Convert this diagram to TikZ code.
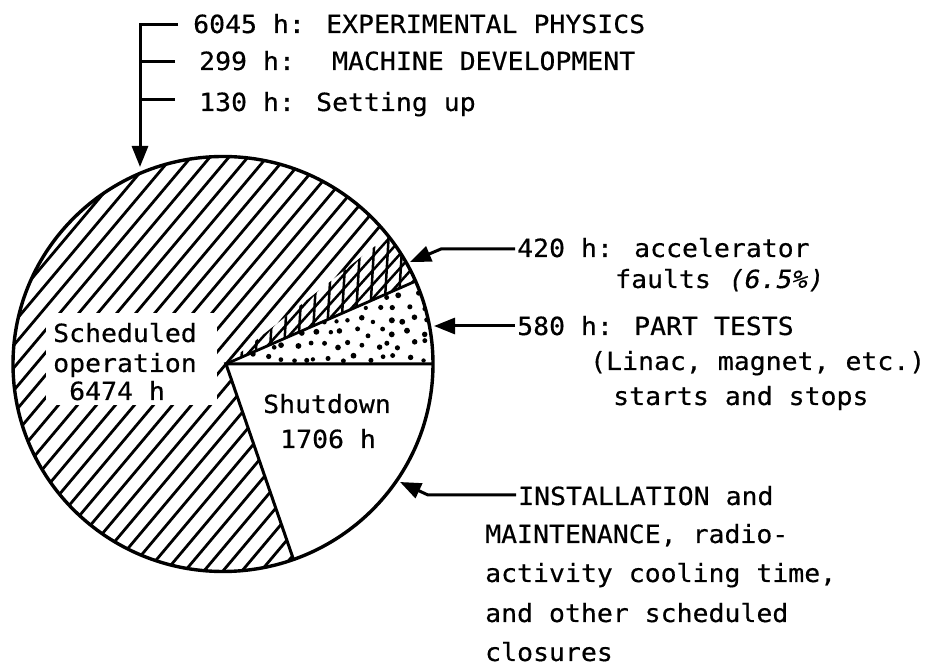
\documentclass[tikz,border=0pt]{standalone}
\usepackage{fontspec}
\usetikzlibrary{arrows.meta}
\newfontfamily\tw[FakeStretch=1.06,FakeBold=0.4]{DejaVu Sans Mono}
\newfontfamily\twi[FakeStretch=1.06,FakeSlant=0.2,FakeBold=0.4]{DejaVu Sans Mono}
\begin{document}
\begin{tikzpicture}[x=1pt,y=1pt,
  lbl/.style={anchor=base west,inner sep=0pt,font=\tw\fontsize{25}{30}\selectfont},
  conn/.style={line width=3pt},
  arr/.style={conn,-{Triangle[length=21pt,width=16pt]}},
  hatchl/.style={line width=2.8pt},
  xhatch/.style={line width=2.5pt},
  rim/.style={line width=3.4pt},
  dotc/.style={fill=black}]
\useasboundingbox (0,0) rectangle (935,667);
\coordinate (V) at (226,303);
\coordinate (O) at (223,303);
% ---------- fillings ----------
\begin{scope}
  \clip (O) ellipse [x radius=210, y radius=207.5];
  % single hatch of the scheduled operation
  \foreach \i in {-17,...,17}{
    \draw[hatchl] ({226+19*\i-206},{303-245}) -- ({226+19*\i+206},{303+245});
  }
  % shutdown sector (white)
  \fill[white] (V) -- (460,303) -- (460,-60) -- (352,-60) -- cycle;
  % part tests sector (white, dotted)
  \fill[white] (V) -- (460,303) -- (460,405.2) -- cycle;
  \begin{scope}
    \clip (V) -- (460,303) -- (460,405.2) -- cycle;
    \pgfmathsetseed{5}
    \foreach \gx in {0,...,16}{
      \foreach \gy in {0,...,7}{
        \pgfmathsetmacro\px{239+13*\gx+6.5*mod(\gy,2)+9*(rnd-0.5)}
        \pgfmathsetmacro\py{310+12.5*\gy+8*(rnd-0.5)}
        \pgfmathsetmacro\ds{2.1+0.9*rnd}
        \fill[dotc] (\px,\py) circle (\ds);
      }
    }
  \end{scope}
  % accelerator faults (cross hatch)
  \fill[white] (V) -- (460,405.2) -- (460,488) -- cycle;
  \begin{scope}
    \clip (V) -- (460,405.2) -- (460,488) -- cycle;
    \foreach \k in {-12,...,1}{
      \draw[xhatch] (220,{303-6.7+14*\k}) -- (460,{303+260.7+14*\k});
    }
    \foreach \x in {246,260,...,430}{
      \draw[xhatch] (\x-5,300) -- (\x+5,470);
    }
  \end{scope}
\end{scope}
% white patch behind the label of the big sector
\fill[white] (46,262) rectangle (217,354);
% ---------- outline ----------
\draw[rim] (O) ellipse [x radius=210, y radius=207.5];
\draw[line width=3pt] (293.5,107.5) -- (V) -- (433,303);
\draw[line width=2.8pt] (V) -- (416,386);
% ---------- labels inside ----------
\node[lbl] (sch1) at (53,325) {Scheduled};
\node[lbl] (sch2) at (53,295) {operation};
\node[lbl] (sch3) at (69,267) {6474 h};
\node[lbl] (sd1) at (263,254) {Shutdown};
\node[lbl] (sd2) at (280,219) {1706 h};
% ---------- top labels ----------
\node[lbl] (t1) at (193,634) {6045 h: EXPERIMENTAL PHYSICS};
\node[lbl] (t2) at (199,597) {299 h:~ MACHINE DEVELOPMENT};
\node[lbl] (t3) at (199,556) {130 h: Setting up};
\coordinate (tip1) at (140,500);
\draw[arr] ([shift={(-15,8)}]t1.base west) -- ++(-38,0) coordinate (bk) -- (bk |- tip1);
\draw[conn] ([shift={(-24,8)}]t2.base west) -- ++(-35,0);
\draw[conn] ([shift={(-24,11)}]t3.base west) -- ++(-35,0);
% ---------- right labels ----------
\node[lbl] (f1) at (517,410) {420 h: accelerator};
\node[lbl] (f2) at (615,379) {faults {\twi(6.5\%)}};
\node[lbl] (p1) at (517,332) {580 h: PART TESTS};
\node[lbl] (p2) at (590,297) {(Linac, magnet, etc.)};
\node[lbl] (p3) at (613,262) {starts and stops};
\coordinate (tipf) at (410,405);
\coordinate (bendf) at (441,418);
\draw[arr] ([shift={(-2,8)}]f1.base west) -- (bendf) -- (tipf);
\coordinate (tipp) at (434,341);
\draw[arr] ([shift={(-2,9)}]p1.base west) -- (tipp);
% ---------- bottom labels ----------
\node[lbl] (i1) at (518,162) {INSTALLATION and};
\node[lbl] (i2) at (485,124) {MAINTENANCE, radio-};
\node[lbl] (i3) at (485,85) {activity cooling time,};
\node[lbl] (i4) at (485,45) {and other scheduled};
\node[lbl] (i5) at (485,6) {closures};
\coordinate (tipi) at (400,185);
\coordinate (bendi) at (428,172);
\draw[arr] ([shift={(-2,10)}]i1.base west) -- (bendi) -- (tipi);
\end{tikzpicture}
\end{document}
